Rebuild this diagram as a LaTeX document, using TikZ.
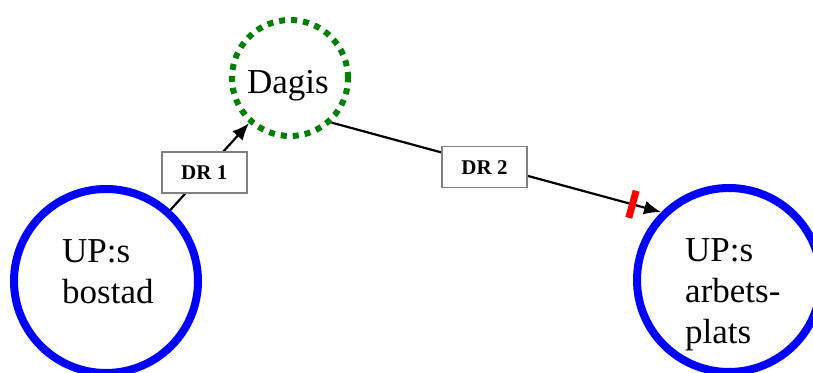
\documentclass[tikz,border=0pt]{standalone}
\usepackage{fontspec}
\setmainfont{Liberation Serif}
\usetikzlibrary{arrows.meta}
\definecolor{dgreen}{RGB}{0,128,0}
\definecolor{boxgray}{RGB}{128,128,128}
\begin{document}
\begin{tikzpicture}[x=1pt,y=-1pt,
  place/.style={circle,draw=blue,line width=8pt,minimum size=184pt,inner sep=0pt},
  stop/.style={circle,draw=dgreen,line width=6pt,dash pattern=on 6pt off 6pt,minimum size=116pt,inner sep=0pt},
  bigtext/.style={font=\fontsize{35}{41}\selectfont,align=left,inner sep=0pt},
  drbox/.style={draw=boxgray,line width=1.7pt,fill=white,minimum width=85pt,minimum height=41pt,inner sep=0pt,font=\fontsize{21}{24}\selectfont\bfseries},
  conn/.style={line width=2.2pt,-{Latex[length=17pt,width=14pt]}},
  tick/.style={fill=red,draw=none,minimum width=7pt,minimum height=28pt,inner sep=0pt}]
\useasboundingbox (0,0) rectangle (813,372);
\node[place] (home) at (106,281) {};
\node[place] (work) at (729,280) {};
\node[stop] (dagis) at (290,78) {};
\node[bigtext,anchor=base] (dagistext) at (288,93) {Dagis};
\node[bigtext,anchor=base west] (hometext) at (62,303) {UP:s\\bostad};
\node[bigtext,anchor=base west] (worktext) at (685,343) {UP:s\\arbets-\\plats};
\draw[conn] (home) -- node[drbox,pos=0.43] (dr1) {DR 1} (dagis);
\draw[conn] (dagis.-47) -- node[drbox,pos=0.464,yshift=-3pt] (dr2) {DR 2} node[tick,sloped,pos=0.913] (redtick) {} (work.135);
\end{tikzpicture}
\end{document}
